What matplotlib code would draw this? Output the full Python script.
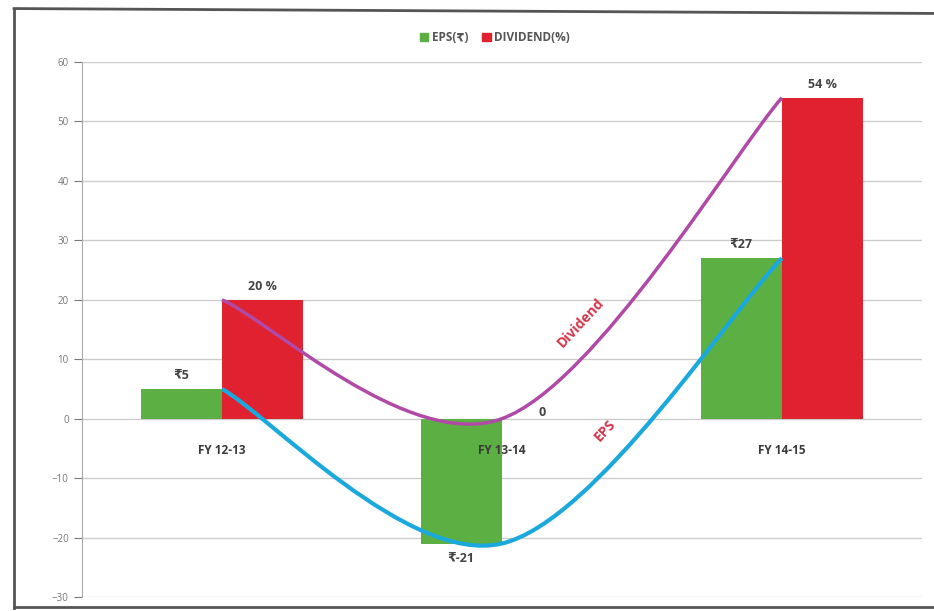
import numpy as np
from matplotlib import pyplot as plt
from matplotlib.patches import Patch
from matplotlib.lines import Line2D
from matplotlib.path import Path
from matplotlib.patches import PathPatch

# 数据
categories = ['FY 12-13', 'FY 13-14', 'FY 14-15']
eps = [5, -21, 27]
dividend = [20, 0, 54]
eps_labels = ['₹5', '₹-21', '₹27']
dividend_labels = ['20 %', '0', '54 %']
yticks = [-30, -20, -10, 0, 10, 20, 30, 40, 50, 60]

GREEN = '#5cb043'
RED = '#e0212f'
PURPLE = '#b04aa6'
CYAN = '#1ba8dc'
FONT = ['Open Sans', 'DejaVu Sans']

plt.rcParams['font.family'] = FONT

fig = plt.figure(figsize=(9.34, 6.11), dpi=100)
ax = fig.add_axes([0.0878, 0.0229, 0.8992, 0.8756])

x = np.arange(len(categories))
w = 0.29

ax.bar(x - w / 2, eps, w, color=GREEN, zorder=2)
ax.bar(x + w / 2, dividend, w, color=RED, zorder=2)


def smooth_path(xs, ys):
    '''平滑曲线: 与 Excel 类似的三次贝塞尔曲线'''
    pts = np.column_stack([xs, ys]).astype(float)
    n = len(pts)
    verts = [pts[0]]
    codes = [Path.MOVETO]
    for i in range(n - 1):
        p_prev = pts[max(i - 1, 0)]
        p0 = pts[i]
        p1 = pts[i + 1]
        p_next = pts[min(i + 2, n - 1)]
        c1 = p0 + (p1 - p_prev) / 6
        c2 = p1 - (p_next - p0) / 6
        verts += [c1, c2, p1]
        codes += [Path.CURVE4] * 3
    return Path(verts, codes)


ax.add_patch(PathPatch(smooth_path(x, dividend), fill=False,
                       edgecolor=PURPLE, lw=2.5, zorder=3))
ax.add_patch(PathPatch(smooth_path(x, eps), fill=False,
                       edgecolor=CYAN, lw=3, zorder=3))

# 数据标签
for i in range(len(categories)):
    if eps[i] >= 0:
        ax.annotate(eps_labels[i], (x[i] - w / 2, eps[i]), xytext=(0, 5),
                    textcoords='offset points', ha='center', va='bottom',
                    fontsize=9, fontweight='bold', color='#444444')
    else:
        ax.annotate(eps_labels[i], (x[i] - w / 2, eps[i]), xytext=(0, -6),
                    textcoords='offset points', ha='center', va='top',
                    fontsize=9, fontweight='bold', color='#444444')
    # 数值为 0 时标签贴近 0 轴
    dy = 5 if dividend[i] != 0 else 0
    ax.annotate(dividend_labels[i], (x[i] + w / 2, dividend[i]), xytext=(0, dy),
                textcoords='offset points', ha='center', va='bottom',
                fontsize=9, fontweight='bold', color='#444444')
    # 分类标签放在 0 轴下方
    ax.annotate(categories[i], (x[i], 0), xytext=(0, -18),
                textcoords='offset points', ha='center', va='top',
                fontsize=8.5, fontweight='bold', color='#3a3a3a', zorder=4)

ax.text(1.28, 16.2, 'Dividend', rotation=47, ha='center', va='center',
        fontsize=10, fontweight='bold', color='#d3354a', zorder=4)
ax.text(1.37, -2.0, 'EPS', rotation=47, ha='center', va='center',
        fontsize=10, fontweight='bold', color='#d3354a', zorder=4)

# 坐标轴格式
ax.set_xlim(-0.5, 2.5)
ax.set_ylim(-30, 60)
ax.set_yticks(yticks)
ax.set_xticks([])
ax.tick_params(axis='y', labelsize=7, colors='#777777', length=6, width=0.8)
ax.yaxis.grid(True, color='#cccccc', lw=1)
ax.set_axisbelow(True)
for side in ['top', 'right', 'bottom']:
    ax.spines[side].set_visible(False)
ax.spines['left'].set_color('#aaaaaa')

fig.legend(handles=[Patch(color=GREEN, label='EPS(₹)'),
                    Patch(color=RED, label='DIVIDEND(%)')],
           loc='center', bbox_to_anchor=(0.53, 0.938), ncol=2, frameon=False,
           handlelength=0.7, handleheight=0.7, handletextpad=0.3,
           columnspacing=1.2, prop={'size': 8.5, 'weight': 'bold', 'family': FONT},
           labelcolor='#555555')

# 外框
fig.add_artist(Line2D([0.015, 0.015], [0.005, 0.986], color='#555555', lw=2))
fig.add_artist(Line2D([0.015, 1.0], [0.986, 0.978], color='#555555', lw=2))
fig.add_artist(Line2D([0.015, 1.0], [0.006, 0.006], color='#555555', lw=2))

fig.savefig('out.png', dpi=100)
